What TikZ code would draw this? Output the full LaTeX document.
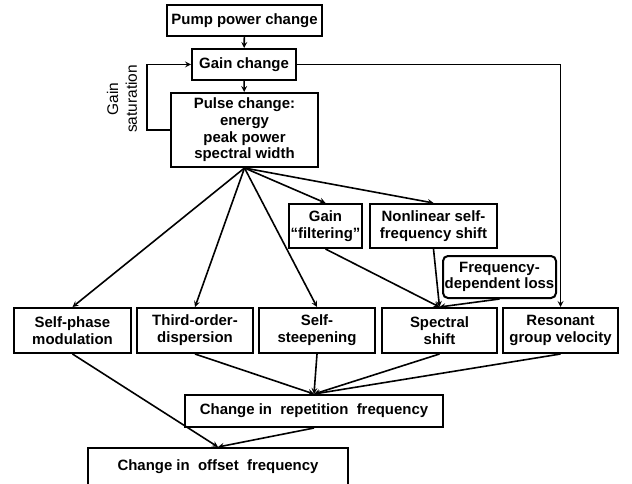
\documentclass[tikz,border=0pt]{standalone}
\usepackage{fontspec}
\setmainfont{Liberation Sans}
\usetikzlibrary{arrows,positioning,calc}

\begin{document}
\begin{tikzpicture}[x=1bp,y=-1bp] % one unit is one pixel of the reference
\tikzset{box/.style={draw, line width=2bp, inner sep=0pt, align=center, font=\fontsize{15}{16.8}\selectfont\bfseries}} % all boxes
\tikzset{flow/.style={->, >=stealth, line width=1.6bp}} % connectors
\useasboundingbox (0,0) rectangle (632,484);
% top column
\node[box, minimum width=155bp, minimum height=31bp] (pump) at (244.5,20.5) {Pump power change};
\node[box, minimum width=104bp, minimum height=31bp] (gain) at (244,64.5) {Gain change};
\node[box, minimum width=147bp, minimum height=74bp] (pulse) at (244.5,130) {Pulse change:\\energy\\peak power\\spectral width};
\node[rotate=90, align=center, font=\fontsize{15.5}{19}\selectfont] (gsat) at (122,99) {Gain\\saturation};
% middle boxes
\node[box, minimum width=73bp, minimum height=44bp] (gfilt) at (325.5,226) {Gain\\“filtering”};
\node[box, minimum width=127bp, minimum height=44bp] (nlsfs) at (433.5,226) {Nonlinear self-\\frequency shift};
\node[box, rounded corners=5bp, minimum width=113bp, minimum height=42bp] (fdl) at (499.5,277) {Frequency-\\dependent loss};
% bottom row
\node[box, minimum width=117bp, minimum height=45bp] (spm) at (72.5,330.5) {Self-phase\\modulation};
\node[box, minimum width=116bp, minimum height=45bp] (tod) at (195,330.5) {Third-order-\\dispersion};
\node[box, minimum width=116bp, minimum height=45bp] (sst) at (317,330.5) {Self-\\steepening};
\node[box, minimum width=115bp, minimum height=45bp] (ssh) at (439.5,330.5) {Spectral\\shift};
\node[box, minimum width=115bp, minimum height=45bp] (rgv) at (560.5,330.5) {Resonant\\group velocity};
% outputs
\node[box, minimum width=258bp, minimum height=32bp] (rep) at (314,411) {Change in \ repetition \ frequency};
\node[box, minimum width=260bp, minimum height=38bp] (off) at (218,467) {Change in \ offset \ frequency};
% connectors
\draw[flow] (pump) -- (gain);
\draw[flow] (gain) -- (pulse);
\draw[flow] (pulse.west) -- ++(-23,0) |- (gain.west);
\draw[flow] (gain.east) -| (rgv.north);
\foreach \t in {spm,tod,sst,gfilt,nlsfs}
  \draw[flow] (pulse.south) -- (\t.north);
\foreach \s in {gfilt,nlsfs,fdl}
  \draw[flow] (\s.south) -- (ssh.north);
\foreach \s in {tod,sst,ssh,rgv}
  \draw[flow] (\s.south) -- (rep.north);
\draw[flow] (spm.south) -- (off.north);
\draw[flow] (rep.south) -- (off.north);
\end{tikzpicture}
\end{document}
